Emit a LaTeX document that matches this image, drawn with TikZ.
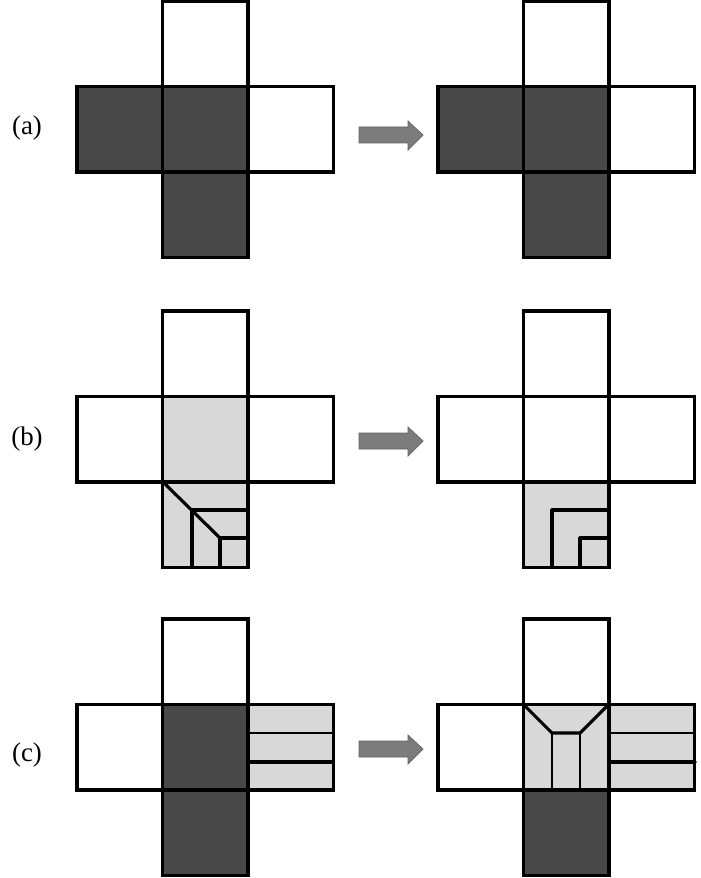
\documentclass[tikz,border=0pt]{standalone}
\usepackage{fontspec}
\setmainfont{Liberation Serif}
\definecolor{darkcell}{HTML}{484848}
\definecolor{lightcell}{HTML}{D8D8D8}
\definecolor{arrowgray}{HTML}{7C7C7C}
\tikzset{
  heavy/.style={draw=black,line width=1.8pt,line join=miter},
  grid line/.style={draw=black,line width=1.8pt,line cap=round,line join=round},
  fine line/.style={draw=black,line width=1.2pt},
  dark/.style={fill=darkcell},
  light/.style={fill=lightcell},
  open/.style={fill=white},
  move arrow/.style={fill=arrowgray,draw=arrowgray!80!black,line width=.4pt},
  tag/.style={font=\fontsize{15.3pt}{17pt}\selectfont,inner sep=0pt,anchor=center}
}
% cell: origin of the cross x, y; column, row; style
\newcommand{\crosscell}[5]{\path[heavy,#5] ({#1+85.5*#3},{#2+85.5*#4}) rectangle ++(85.5,85.5);}
\newcommand{\movearrow}[1]{\path[move arrow] (359,{#1-8}) -- (408,{#1-8}) -- (408,{#1-14}) -- (423,{#1}) -- (408,{#1+15}) -- (408,{#1+8}) -- (359,{#1+8}) -- cycle;}
\begin{document}
\begin{tikzpicture}[x=0.02cm,y=-0.02cm]
\useasboundingbox (0,0) rectangle (700,878);
\path[fill=white] (0,0) rectangle (700,878);
% row a
\crosscell{77}{1}{1}{0}{open}
\crosscell{77}{1}{2}{1}{open}
\crosscell{77}{1}{0}{1}{dark}
\crosscell{77}{1}{1}{1}{dark}
\crosscell{77}{1}{1}{2}{dark}
\crosscell{438}{1}{1}{0}{open}
\crosscell{438}{1}{2}{1}{open}
\crosscell{438}{1}{0}{1}{dark}
\crosscell{438}{1}{1}{1}{dark}
\crosscell{438}{1}{1}{2}{dark}
\node[tag] (la) at (27,128) {(a)};
\movearrow{135}
% row b
\crosscell{77}{311}{1}{0}{open}
\crosscell{77}{311}{0}{1}{open}
\crosscell{77}{311}{2}{1}{open}
\crosscell{77}{311}{1}{1}{light}
\crosscell{77}{311}{1}{2}{light}
\draw[grid line] (163,482) -- (220,538);
\draw[grid line] (192,510) -- (248,510);
\draw[grid line] (192,510) -- (192,567);
\draw[grid line] (220,538) -- (248,538);
\draw[grid line] (220,538) -- (220,567);
\crosscell{438}{311}{1}{0}{open}
\crosscell{438}{311}{0}{1}{open}
\crosscell{438}{311}{2}{1}{open}
\crosscell{438}{311}{1}{1}{open}
\crosscell{438}{311}{1}{2}{light}
\draw[grid line] (552,567) -- (552,510) -- (609,510);
\draw[grid line] (580,567) -- (580,538) -- (609,538);
\node[tag] (lb) at (27,439) {(b)};
\movearrow{441}
% row c
\crosscell{77}{619}{1}{0}{open}
\crosscell{77}{619}{0}{1}{open}
\crosscell{77}{619}{2}{1}{light}
\crosscell{77}{619}{1}{1}{dark}
\crosscell{77}{619}{1}{2}{dark}
\draw[fine line] (248,733) -- (333,733);
\draw[grid line] (248,762) -- (333,762);
\crosscell{438}{619}{1}{0}{open}
\crosscell{438}{619}{0}{1}{open}
\crosscell{438}{619}{2}{1}{light}
\crosscell{438}{619}{1}{1}{light}
\crosscell{438}{619}{1}{2}{dark}
\draw[fine line] (609,733) -- (695,733);
\draw[grid line] (609,762) -- (695,762);
\draw[grid line] (524,705) -- (552,733) -- (580,733) -- (608,705);
\draw[fine line] (552,733) -- (552,790);
\draw[fine line] (580,733) -- (580,790);
\node[tag] (lc) at (27,755) {(c)};
\movearrow{749}
\end{tikzpicture}
\end{document}
